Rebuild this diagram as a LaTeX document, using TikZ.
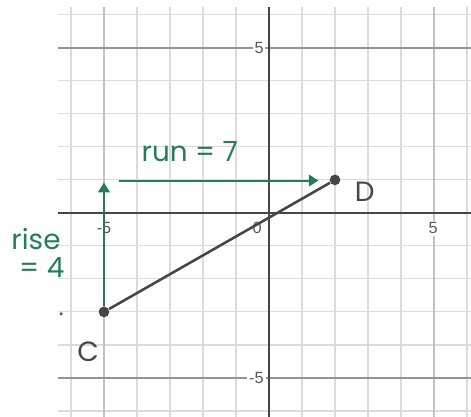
\documentclass[tikz,border=0pt]{standalone}
\usepackage{fontspec}
\setsansfont{Liberation Sans}
\newfontfamily\handfont{Poppins}
\usetikzlibrary{arrows.meta}
\definecolor{slopegreen}{RGB}{38,124,86}
\definecolor{pencil}{RGB}{70,70,74}

\begin{document}
\begin{tikzpicture}[
    x=0.5cm,y=0.5cm,
    font=\sffamily,
    >={Triangle[length=4.2pt,width=5pt]},
    gridline/.style={draw=black!14, line width=0.5pt},
    fiveline/.style={draw=black!42, line width=0.6pt},
    axis/.style={draw=pencil, line width=0.8pt},
    tick/.style={
        font=\sffamily\scriptsize,
        text=black!65,
        fill=white,
        inner sep=0.8pt
    },
    segment/.style={draw=pencil, line width=1.1pt},
    point/.style={
        circle,
        fill=pencil,
        minimum size=4.6pt,
        inner sep=0pt
    },
    letter/.style={font=\handfont\large, text=pencil},
    greenlabel/.style={font=\handfont\large, text=slopegreen, align=center},
    measure/.style={->, draw=slopegreen, line width=0.9pt}
]

\useasboundingbox (-8.15,-6.18) rectangle (6.12,6.45);

% -----------------------------------------------------------------------------
% Grid and axes
% -----------------------------------------------------------------------------
\foreach \gx in {-6,-4,-3,-2,-1,1,2,3,4,6} {
    \draw[gridline] (\gx,-6.18) -- (\gx,6.25);
}
\foreach \gy in {-6,-4,-3,-2,-1,1,2,3,4,6} {
    \draw[gridline] (-6.4,\gy) -- (6.12,\gy);
}
\draw[draw=black!24, line width=0.55pt] (-5,-6.18) -- (-5,6.25);
\draw[draw=black!24, line width=0.55pt] (5,-6.18) -- (5,6.25);
\draw[fiveline] (-6.4,5) -- (6.12,5);
\draw[fiveline] (-6.4,-5) -- (6.12,-5);

\draw[axis] (-6.4,0) -- (6.12,0);
\draw[axis] (0,-6.18) -- (0,6.25);

\node[tick] (ty5) at (-0.3,5) {5};
\node[tick] (tym5) at (-0.38,-5) {-5};
\node[tick, fill=none] (tx0) at (-0.36,-0.44) {0};
\node[tick, fill=none] (txm5) at (-5,-0.46) {-5};
\node[tick] (tx5) at (4.97,-0.46) {5};

% stray pencil mark
\fill[black!60] (-6.3,-3.06) circle (0.8pt);

% -----------------------------------------------------------------------------
% Segment CD
% -----------------------------------------------------------------------------
\node[point] (C) at (-5,-3) {};
\node[point] (D) at (2,1) {};
\draw[segment] (C) -- (D);

\node[letter] (lblC) at (-5.48,-4.2) {C};
\node[letter] (lblD) at (2.9,0.64) {D};

% -----------------------------------------------------------------------------
% Rise and run
% -----------------------------------------------------------------------------
\coordinate (risetop) at (-5,0.92);
\coordinate (runstart) at (-4.55,0.98);
\coordinate (runend) at (1.5,0.98);

\draw[measure] (C.north) -- (risetop);
\draw[measure] (runstart) -- (runend);

\node[greenlabel] (run) at (-2.4,1.85) {run = 7};
\node[greenlabel, align=left, anchor=west] (rise) at (-8.05,-1.2)
    {rise\\[-2pt]\;= 4};

\end{tikzpicture}
\end{document}
